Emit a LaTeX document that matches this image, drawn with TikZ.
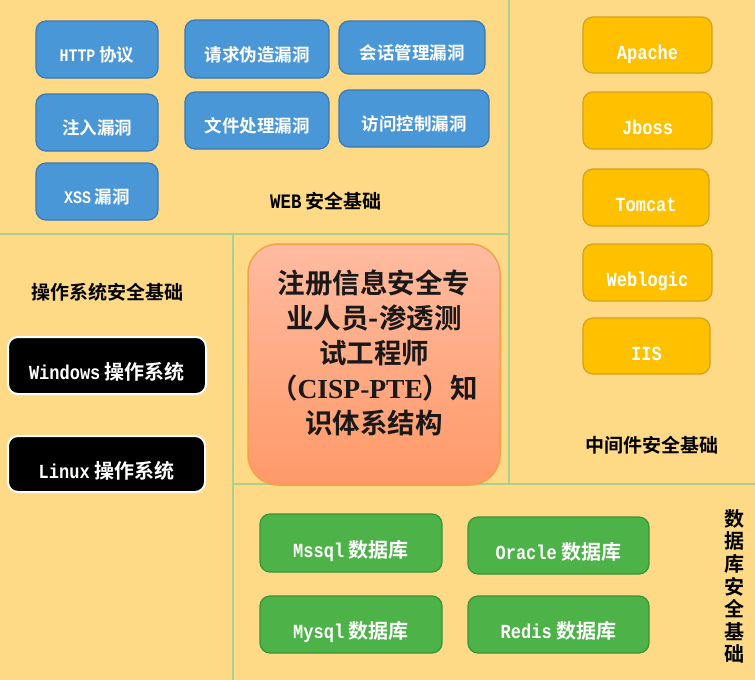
\documentclass[tikz,border=0pt]{standalone}
\usepackage{fontspec}
\setmainfont{Liberation Mono}
\newfontfamily\cjk{Noto Sans CJK SC}[BoldFont={Noto Sans CJK SC Bold}]
\newfontfamily\mono{Liberation Mono}[FakeStretch=0.85]
\newfontfamily\serifb{Liberation Serif}
\definecolor{bg}{HTML}{FED986}
\definecolor{gline}{HTML}{A9D18E}
\definecolor{bluef}{HTML}{4A97D8}
\definecolor{blued}{HTML}{3A78B5}
\definecolor{yelf}{HTML}{FFC000}
\definecolor{yeld}{HTML}{D4A11E}
\definecolor{grnf}{HTML}{4DB348}
\definecolor{grnd}{HTML}{3A923A}
\definecolor{ctop}{HTML}{FFBBA0}
\definecolor{cbot}{HTML}{FF9968}
\definecolor{cdraw}{HTML}{F7A04A}
\def\latsz{15}
\newcommand\lt[1]{{\mono\bfseries\fontsize{\latsz}{\latsz}\selectfont #1}}
\tikzset{
  boxbase/.style={rounded corners=10, inner sep=0pt, text=white, align=center},
  bluebox/.style={boxbase, fill=bluef, draw=blued, line width=1.2pt,
    text height=24pt, text depth=0pt,
    font=\cjk\bfseries\fontsize{17.5}{20}\selectfont\def\latsz{17.6}},
  blackbox/.style={boxbase, fill=black, draw=white, line width=2pt,
    text height=28pt, text depth=0pt,
    font=\cjk\bfseries\fontsize{20}{22}\selectfont\def\latsz{20}},
  yelbox/.style={boxbase, fill=yelf, draw=yeld, line width=1.2pt,
    text height=28pt, text depth=0pt,
    font=\cjk\bfseries\fontsize{20}{22}\selectfont\def\latsz{20}},
  grnbox/.style={boxbase, fill=grnf, draw=grnd, line width=1.2pt,
    text height=28pt, text depth=0pt,
    font=\cjk\bfseries\fontsize{20}{22}\selectfont\def\latsz{20}},
  seclabel/.style={inner sep=0pt, text=black,
    font=\cjk\bfseries\fontsize{19}{22}\selectfont\def\latsz{20.5}},
  divider/.style={draw=gline, line width=1.5pt},
}
\begin{document}
\begin{tikzpicture}[x=1pt,y=-1pt]
\useasboundingbox (0,0) rectangle (755,680);
\fill[bg] (0,0) rectangle (755,680);
% dividers
\coordinate (l1a) at (0,234); \coordinate (l1b) at (510,234);
\coordinate (l2a) at (509,0); \coordinate (l2b) at (509,484);
\coordinate (l3a) at (233,234); \coordinate (l3b) at (233,680);
\coordinate (l4a) at (233,484); \coordinate (l4b) at (755,484);
\draw[divider] (l1a) -- (l1b);
\draw[divider] (l2a) -- (l2b);
\draw[divider] (l3a) -- (l3b);
\draw[divider] (l4a) -- (l4b);

% WEB
\node[bluebox, minimum width=122, minimum height=57] (http) at (97,49.5) {\lt{HTTP} 协议};
\node[bluebox, minimum width=122, minimum height=57] (inj) at (97,122.5) {注入漏洞};
\node[bluebox, minimum width=122, minimum height=57] (xss) at (97,191.5) {\lt{XSS} 漏洞};
\node[bluebox, minimum width=144, minimum height=58] (csrf) at (257,49) {请求伪造漏洞};
\node[bluebox, minimum width=144, minimum height=57] (file) at (257,120.5) {文件处理漏洞};
\node[bluebox, minimum width=146, minimum height=53] (sess) at (412,47.5) {会话管理漏洞};
\node[bluebox, minimum width=150, minimum height=57] (acc) at (414,118.5) {访问控制漏洞};
\node[seclabel] (webl) at (326,201.5) {\lt{WEB} 安全基础};

% OS
\node[seclabel] (osl) at (107,292) {操作系统安全基础};
\node[blackbox, minimum width=198, minimum height=57] (win) at (107,365.5) {\lt{Windows} 操作系统};
\node[blackbox, minimum width=197, minimum height=56] (lin) at (106.5,464) {\lt{Linux} 操作系统};

% center
\node[rounded corners=30, inner sep=0pt, top color=ctop, bottom color=cbot, draw=cdraw, line width=1.5pt,
  minimum width=252, minimum height=241] (center) at (374,364.5) {};
\node[inner sep=0pt, align=center, text=black!90,
  font=\cjk\bfseries\fontsize{27.5}{35}\selectfont] (ctext) at (374,353)
  {注册信息安全专\\业人员-渗透测\\试工程师\\（{\serifb\bfseries CISP-PTE}）知\\识体系结构};

% middleware
\node[yelbox, minimum width=129, minimum height=56] (apache) at (647.5,45) {\lt{Apache}};
\node[yelbox, minimum width=129, minimum height=57] (jboss) at (647.5,120.5) {\lt{Jboss}};
\node[yelbox, minimum width=126, minimum height=57] (tomcat) at (646,197.5) {\lt{Tomcat}};
\node[yelbox, minimum width=129, minimum height=57] (weblogic) at (647.5,272.5) {\lt{Weblogic}};
\node[yelbox, minimum width=127, minimum height=56] (iis) at (646.5,346) {\lt{IIS}};
\node[seclabel] (mwl) at (652,445) {中间件安全基础};

% database
\node[grnbox, minimum width=182, minimum height=58] (mssql) at (351,543) {\lt{Mssql} 数据库};
\node[grnbox, minimum width=181, minimum height=57] (oracle) at (558.5,545.5) {\lt{Oracle} 数据库};
\node[grnbox, minimum width=182, minimum height=57] (mysql) at (351,624.5) {\lt{Mysql} 数据库};
\node[grnbox, minimum width=181, minimum height=57] (redis) at (558.5,624.5) {\lt{Redis} 数据库};
\node[seclabel, align=center, font=\cjk\bfseries\fontsize{20}{22.6}\selectfont] (dbl) at (734,586.5)
  {数\\据\\库\\安\\全\\基\\础};
\end{tikzpicture}
\end{document}
